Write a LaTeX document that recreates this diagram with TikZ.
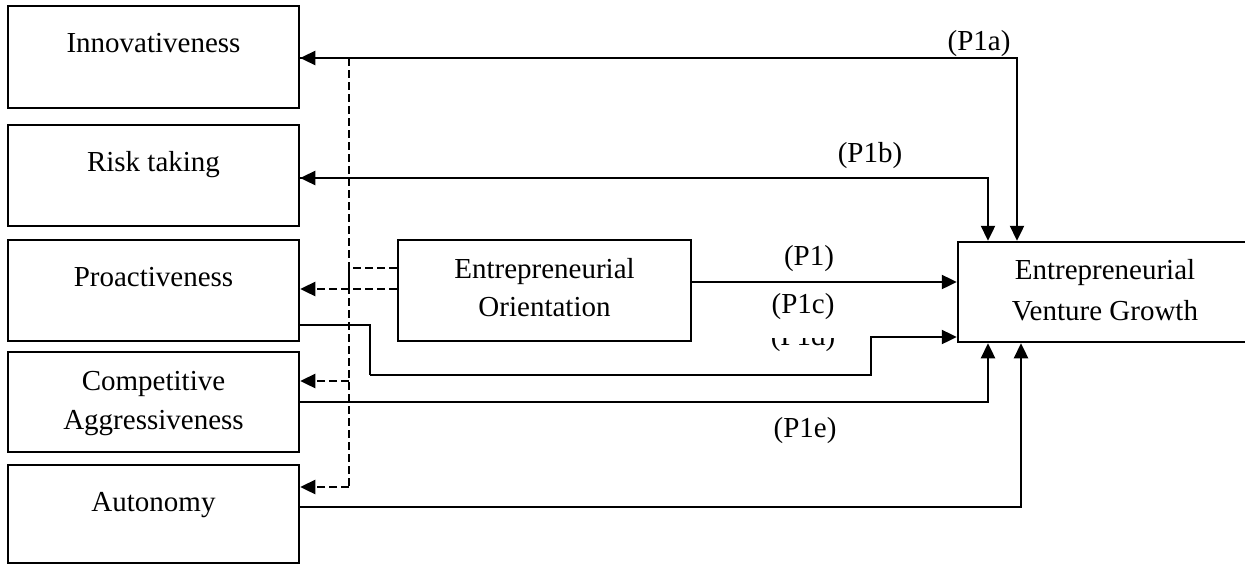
\documentclass[tikz,border=0pt]{standalone}
\usepackage{fontspec}
\setmainfont{Liberation Serif}
\usetikzlibrary{arrows.meta}
\tikzset{
  box/.style={draw, line width=2.5pt, inner sep=0pt},
  txt/.style={inner sep=0pt, anchor=base, font=\fontsize{29}{39}\selectfont},
  conn/.style={line width=2.4pt},
  thinconn/.style={line width=1.1pt},
  tipend/.style={-{Triangle[length=15pt,width=14pt]}},
  dsh/.style={line width=2.4pt, dash pattern=on 8pt off 4pt},
}
\begin{document}
\begin{tikzpicture}[x=1pt,y=-1pt]
\clip (0,0) rectangle (1245,565);
\fill[white] (0,0) rectangle (1245,565);

% left boxes
\node[box, minimum width=291pt, minimum height=102pt] (inn) at (153.5,57) {};
\node[box, minimum width=291pt, minimum height=101pt] (risk) at (153.5,175.5) {};
\node[box, minimum width=291pt, minimum height=101pt] (pro) at (153.5,290.5) {};
\node[box, minimum width=291pt, minimum height=100pt] (comp) at (153.5,402) {};
\node[box, minimum width=291pt, minimum height=98pt] (auto) at (153.5,514) {};
\node[txt] (innT) at (153.5,52) {Innovativeness};
\node[txt] (riskT) at (153.5,171) {Risk taking};
\node[txt] (proT) at (153.5,286) {Proactiveness};
\node[txt] (compT1) at (153.5,390) {Competitive};
\node[txt] (compT2) at (153.5,429) {Aggressiveness};
\node[txt] (autoT) at (153.5,511) {Autonomy};

% middle and right boxes
\node[box, minimum width=293pt, minimum height=101pt] (eo) at (544.5,290.5) {};
\node[txt] (eoT1) at (544.5,278) {Entrepreneurial};
\node[txt] (eoT2) at (544.5,316) {Orientation};
\node[box, minimum width=292pt, minimum height=100pt] (evg) at (1104,292) {};
\node[txt] (evgT1) at (1105,279) {Entrepreneurial};
\node[txt] (evgT2) at (1105,320) {Venture Growth};

% helper coordinates
\coordinate (xa) at (1017,58);
\coordinate (xb) at (988,178);
\coordinate (p1y) at (700,282);
\coordinate (d1) at (370,325);
\coordinate (d2) at (370,375);
\coordinate (d3) at (871,375);
\coordinate (d4) at (871,337);
\coordinate (c1) at (988,402);
\coordinate (a1) at (1021,507);
\coordinate (spT) at (349,58);
\coordinate (sr) at (349,178);
\coordinate (e1) at (349,268);
\coordinate (sp) at (349,289);
\coordinate (sc) at (349,381);
\coordinate (spB) at (349,487);

% solid connectors
\draw[conn,tipend] (inn.east |- xa) -- (xa) -- (xa |- evg.north);
\draw[conn,tipend] (risk.east |- xb) -- (xb) -- (xb |- evg.north);
\draw[conn,tipend] (eo.east |- p1y) -- (evg.west |- p1y);
\draw[thinconn] (pro.east |- d1) -- (d1) -- (d2);
\draw[conn,tipend] (d2) -- (d3) -- (d4) -- (evg.west |- d4);
\draw[conn,tipend] (comp.east |- c1) -- (c1) -- (c1 |- evg.south);
\draw[conn,tipend] (auto.east |- a1) -- (a1) -- (a1 |- evg.south);

% dashed connectors
\draw[dsh] (spT) -- (spB);
\draw[dsh,tipend] (spT) -- (inn.east |- spT);
\draw[dsh,tipend] (sr) -- (risk.east |- sr);
\draw[dsh] (eo.west |- e1) -- (e1) -- (sp);
\draw[dsh,tipend] (eo.west |- sp) -- (pro.east |- sp);
\draw[dsh,tipend] (sc) -- (comp.east |- sc);
\draw[dsh,tipend] (spB) -- (auto.east |- spB);

% labels
\node[txt] (lP1a) at (979,50) {(P1a)};
\node[txt] (lP1b) at (870,162) {(P1b)};
\node[txt] (lP1) at (809,265) {(P1)};
\node[txt] (lP1c) at (803,313) {(P1c)};
\begin{scope}
\clip (740,338) rectangle (860,360);
\node[txt] (lP1d) at (803,345) {(P1d)};
\end{scope}
\node[txt] (lP1e) at (805,437) {(P1e)};
\end{tikzpicture}
\end{document}
